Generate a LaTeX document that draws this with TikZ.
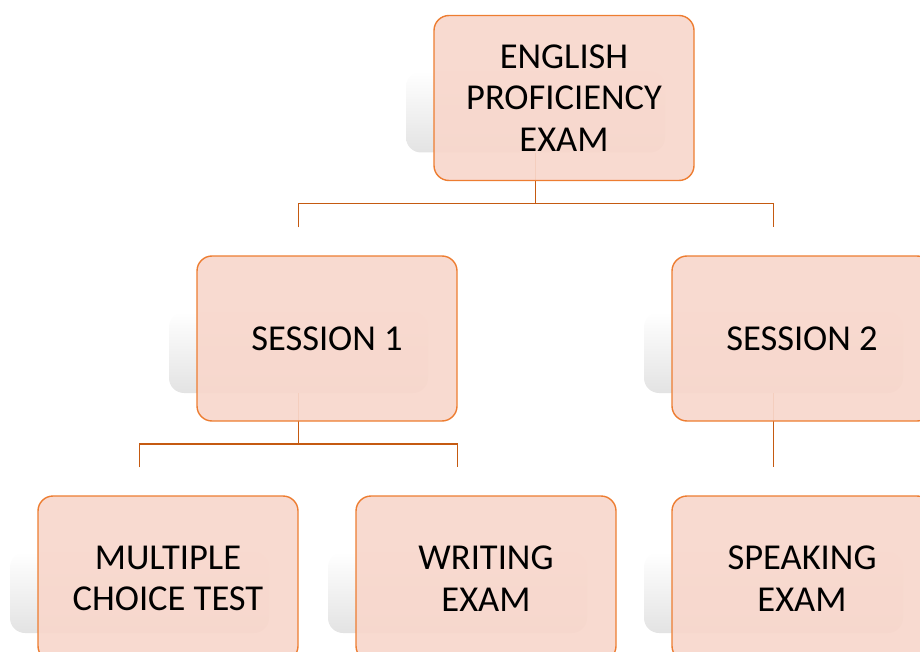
\documentclass[tikz,border=0pt]{standalone}
\usepackage{fontspec}
\setmainfont{Carlito}
\usetikzlibrary{calc}
\definecolor{boxfill}{RGB}{248,215,204}
\definecolor{boxline}{RGB}{237,125,49}
\definecolor{connline}{RGB}{197,90,17}
\pgfdeclarelayer{shadowlayer}
\pgfdeclarelayer{connlayer}
\pgfsetlayers{shadowlayer,connlayer,main}
\begin{document}
\begin{tikzpicture}[x=1pt,y=-1pt,
  box/.style={draw=boxline, line width=1.4pt, fill=boxfill, fill opacity=0.93, draw opacity=1, text opacity=1,
    rounded corners=15pt, minimum width=260pt, minimum height=165pt, align=center, inner sep=0pt,
    font=\fontsize{36.5}{41.5}\selectfont},
  shadowbox/.style={shade, top color=white, bottom color=black!11, rounded corners=15pt,
    minimum width=259pt, minimum height=81pt, inner sep=0pt},
  conn/.style={draw=connline, line width=1.6pt}]
\useasboundingbox (0,0) rectangle (920,652);
\clip (0,0) rectangle (920,652);
% boxes
\node[box] (top) at (564,98) {ENGLISH\\PROFICIENCY\\EXAM};
\node[box] (s1) at (327,338.5) {SESSION 1};
\node[box] (s2) at (802,338.5) {SESSION 2};
\node[box] (mc) at (168,578.5) {MULTIPLE\\CHOICE TEST};
\node[box] (wr) at (486,578.5) {WRITING\\EXAM};
\node[box] (sp) at (802,578.5) {SPEAKING\\EXAM};
% shadows
\begin{pgfonlayer}{shadowlayer}
\node[shadowbox] (shT)  at ([shift={(-28.5,14)}]top.center) {};
\node[shadowbox] (shS1) at ([shift={(-28.5,14)}]s1.center) {};
\node[shadowbox] (shS2) at ([shift={(-28.5,14)}]s2.center) {};
\node[shadowbox] (shMC) at ([shift={(-28.5,14)}]mc.center) {};
\node[shadowbox] (shWR) at ([shift={(-28.5,14)}]wr.center) {};
\node[shadowbox] (shSP) at ([shift={(-28.5,14)}]sp.center) {};
\end{pgfonlayer}
% connectors
\begin{pgfonlayer}{connlayer}
\draw[conn] (shT.south) -- ++(0,51) coordinate (tb);
\draw[conn] ([shift={(-28.5,-28)}]s1.north) |- (tb) -| ([shift={(-28.5,-28)}]s2.north);
\draw[conn] (shS1.south) -- ++(0,51) coordinate (sb);
\draw[conn] ([shift={(-28.5,-28)}]mc.north) |- (sb) -| ([shift={(-28.5,-28)}]wr.north);
\draw[conn] (shS2.south) -- ([shift={(-28.5,-28)}]sp.north);
\end{pgfonlayer}
\end{tikzpicture}
\end{document}
